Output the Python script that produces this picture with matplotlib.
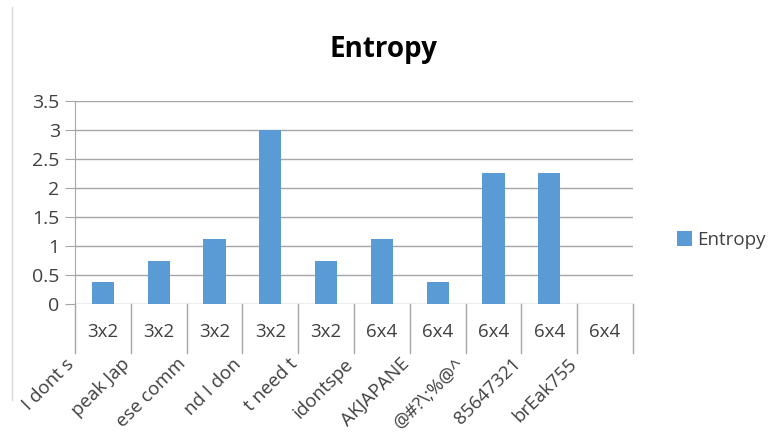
import matplotlib.pyplot as plt
from matplotlib.lines import Line2D
import matplotlib.transforms as mtransforms
import numpy as np

plt.rcParams['font.family'] = ['Open Sans', 'DejaVu Sans']

sizes = ['3x2', '3x2', '3x2', '3x2', '3x2', '6x4', '6x4', '6x4', '6x4', '6x4']
names = ['I dont s', 'peak Jap', 'ese comm', 'nd I don', 't need t',
         'idontspe', 'AKJAPANE', '@#?\\;%@^', '85647321', 'brEak755']
entropy = [0.375, 0.75, 1.125, 3.0, 0.75, 1.125, 0.375, 2.25, 2.25, 0.0]

W, H = 773, 433
fig = plt.figure(figsize=(W / 100, H / 100), dpi=100)
x0, x1, y0, y1 = 75, 633, 304, 101
ax = fig.add_axes([x0 / W, 1 - y0 / H, (x1 - x0) / W, (y0 - y1) / H])

grid_c = '#A6A6A6'
x = np.arange(len(entropy))
ax.bar(x, entropy, width=0.4, color='#5B9BD5', label='Entropy', zorder=3)
ax.set_xlim(-0.5, len(entropy) - 0.5)
ax.set_ylim(0, 3.5)
yt = np.arange(0, 3.51, 0.5)
ax.set_yticks(yt)
ax.set_yticklabels(['0', '0.5', '1', '1.5', '2', '2.5', '3', '3.5'])
for v in yt:
    ax.axhline(v, color=grid_c, lw=1, zorder=1)
ax.set_xticks([])
for s in ['top', 'right', 'bottom']:
    ax.spines[s].set_visible(False)
ax.spines['left'].set_color(grid_c)
ax.tick_params(axis='y', length=7, color=grid_c, labelsize=14, labelcolor='#404040', pad=4)

# category levels below the axis
trans = mtransforms.blended_transform_factory(ax.transData, ax.transAxes)
ax_h = y0 - y1
sep_bottom = -(353 - y0) / ax_h
for b in np.arange(len(entropy) + 1) - 0.5:
    ax.plot([b, b], [0, sep_bottom], color=grid_c, lw=1, transform=trans, clip_on=False)
for i, s in enumerate(sizes):
    ax.text(i, -(332 - y0) / ax_h, s, transform=trans, ha='center', va='center',
            fontsize=13.5, color='#404040')
for i, n in enumerate(names):
    ax.text(i - 0.45, -(355 - y0) / ax_h, n, transform=trans, ha='right', va='top',
            rotation=45, fontsize=13.5, color='#404040')

fig.text(383 / W, 1 - 50 / H, 'Entropy', ha='center', va='center',
         fontsize=20, fontweight='bold', color='black')

fig.legend(loc='center left', bbox_to_anchor=(660 / W, 1 - 240 / H), frameon=False,
           fontsize=13.5, handlelength=0.8, handleheight=0.8, handletextpad=0.3,
           labelcolor='#404040')

fig.add_artist(Line2D([12 / W, 12 / W], [1 - 7 / H, 1 - 400 / H], color='#D9D9D9', lw=1))

fig.savefig('out.png', dpi=100)
